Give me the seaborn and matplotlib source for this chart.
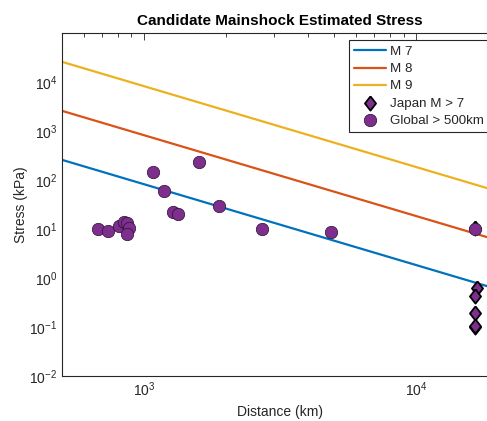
import numpy as np
import pandas as pd
import matplotlib
matplotlib.use("Agg")
import matplotlib.pyplot as plt
import seaborn as sns

# ---- data ----
line_x = [500, 20000]
m7_y = [257, 0.585]
m8_y = [2570, 5.85]
m9_y = [25700, 58.5]
line_labels = ["M 7", "M 8", "M 9"]
line_colors = ["#0072BD", "#D95319", "#EDB120"]

global_dist = [678, 738, 809, 842, 866, 883, 863, 1079, 1188, 1597, 1282, 1337,
               1892, 2716, 4874, 16500]
global_stress = [10.0, 9.1, 11.7, 14.1, 13.1, 10.3, 7.8, 145, 60.5, 236, 22.5, 20.2,
                 29, 10.0, 8.8, 9.9]

japan_dist = [16500, 16700, 16500, 16500, 16500, 16500]
japan_stress = [10.5, 0.62, 0.42, 0.195, 0.10, 0.105]

title = "Candidate Mainshock Estimated Stress"
xlabel = "Distance (km)"
ylabel = "Stress (kPa)"

# ---- style ----
sns.set_style("white")
plt.rcParams["font.family"] = ["Liberation Sans", "DejaVu Sans"]
plt.rcParams["mathtext.fontset"] = "custom"
plt.rcParams["mathtext.rm"] = "Liberation Sans"
plt.rcParams["mathtext.it"] = "Liberation Sans:italic"
plt.rcParams["mathtext.bf"] = "Liberation Sans:bold"
plt.rcParams["axes.unicode_minus"] = False

W, H = 487, 421
fig = plt.figure(figsize=(W / 100, H / 100), dpi=100)
ax = fig.add_axes([62 / W, (H - 376) / H, (498 - 62) / W, (376 - 33) / H])

for ys, lab, col in zip([m7_y, m8_y, m9_y], line_labels, line_colors):
    df = pd.DataFrame({"x": line_x, "y": ys})
    sns.lineplot(data=df, x="x", y="y", color=col, linewidth=1.6, label=lab, ax=ax,
                 zorder=2)

purple = "#7E2F8E"
diamond = [(0, 1), (0.78, 0), (0, -1), (-0.78, 0), (0, 1)]
jdf = pd.DataFrame({"d": japan_dist, "s": japan_stress})
sns.scatterplot(data=jdf, x="d", y="s", marker=diamond, s=105, color=purple,
                edgecolor="black", linewidth=1.3, label="Japan M > 7", ax=ax, zorder=3)
gdf = pd.DataFrame({"d": global_dist, "s": global_stress})
sns.scatterplot(data=gdf, x="d", y="s", marker="o", s=80, color=purple,
                edgecolor="#2a1030", linewidth=0.5, label="Global > 500km", ax=ax,
                zorder=4)

ax.set_xscale("log")
ax.set_yscale("log")
ax.set_xlim(500, 20000)
ax.set_ylim(1e-2, 0.995e5)

ax.set_title(title, fontsize=11, fontweight="bold", color="black", pad=6)
ax.set_xlabel(xlabel, fontsize=10, color="#262626")
ax.set_ylabel(ylabel, fontsize=10, color="#262626", labelpad=1)

ax.yaxis.set_major_locator(matplotlib.ticker.LogLocator(base=10, numticks=20))
ax.yaxis.set_minor_locator(matplotlib.ticker.LogLocator(base=10, subs=np.arange(2, 10), numticks=20))
ax.xaxis.set_minor_locator(matplotlib.ticker.LogLocator(base=10, subs=np.arange(2, 10), numticks=20))
ax.yaxis.set_minor_formatter(matplotlib.ticker.NullFormatter())
ax.xaxis.set_minor_formatter(matplotlib.ticker.NullFormatter())

ax.tick_params(which="both", direction="in", top=True, right=True, colors="#262626",
               labelsize=10, width=0.6)
ax.tick_params(which="major", length=5)
ax.tick_params(which="minor", length=3)
for sp in ax.spines.values():
    sp.set_color("#262626")
    sp.set_linewidth(0.8)

leg = ax.legend(loc="upper left", bbox_to_anchor=(349 / W, 1 - 40.5 / H),
                bbox_transform=fig.transFigure, fontsize=9.6, frameon=True,
                fancybox=False, edgecolor="#262626", framealpha=1,
                borderaxespad=0, handlelength=2.4, handletextpad=0.3,
                labelspacing=0.36, borderpad=0.4)
leg.get_frame().set_linewidth(0.8)

fig.savefig("out.png", dpi=100)
